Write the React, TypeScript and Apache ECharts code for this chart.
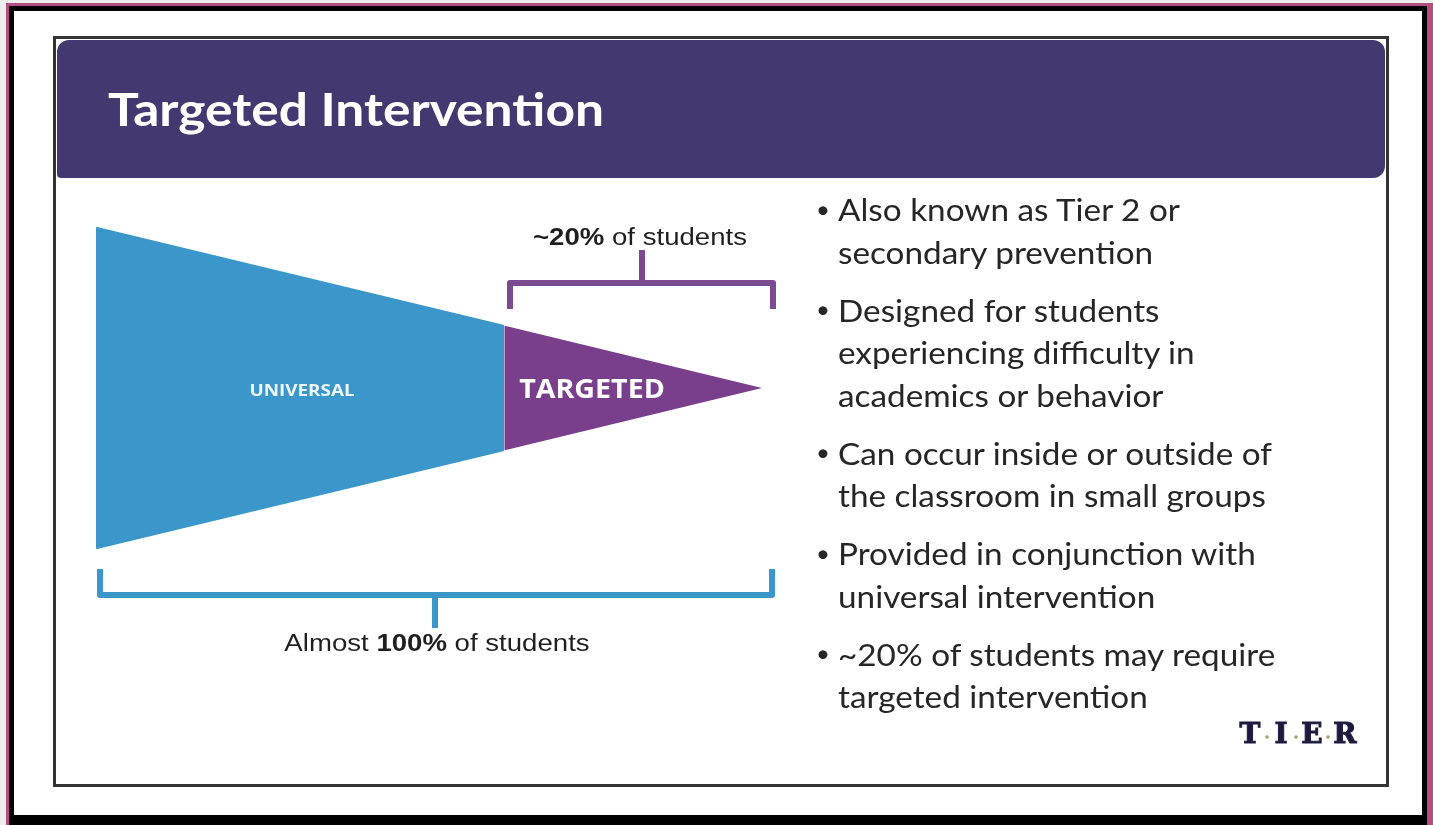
import React, { useEffect, useRef } from "react";
import * as echarts from "echarts";

const title = "Targeted Intervention";
const tierLabels = ["UNIVERSAL", "TARGETED"];
const topBracketLabel = ["~20%", " of students"];
const bottomBracketLabel = ["Almost ", "100%", " of students"];
const bullets: string[][] = [
  ["Also known as Tier 2 or", "secondary prevention"],
  ["Designed for students", "experiencing difficulty in", "academics or behavior"],
  ["Can occur inside or outside of", "the classroom in small groups"],
  ["Provided in conjunction with", "universal intervention"],
  ["~20% of students may require", "targeted intervention"],
];
const logoLetters = ["T", "I", "E", "R"];

const BLUE = "#3b97c9";
const PURPLE = "#7a3f8c";
const HEADER = "#433870";
const TEXT = "#262626";

export default function App() {
  const ref = useRef<HTMLDivElement>(null);
  useEffect(() => {
    if (!ref.current) return;
    const chart = echarts.init(ref.current, undefined, { renderer: "svg" });

    // triangle geometry
    const leftX = 97, topY = 228, botY = 548, tipX = 762, tipY = 388, splitX = 503;
    const f = (splitX - leftX) / (tipX - leftX);
    const sTop = topY + (tipY - topY) * f;
    const sBot = botY + (tipY - botY) * f;

    const bulletEls: any[] = [];
    let y = 210;
    bullets.forEach((para) => {
      para.forEach((line, li) => {
        if (li === 0) {
          bulletEls.push({
            type: "text", x: 816, y: y - 2,
            style: { text: "•", font: "24px Lato", fill: TEXT, verticalAlign: "middle" },
          });
        }
        bulletEls.push({
          type: "text", x: 838, y, scaleX: 1.11,
          style: { text: line, font: "30px Lato", fill: TEXT, verticalAlign: "middle" },
        });
        y += 42.3;
      });
      y += 16;
    });

    const letterX = [1250, 1281, 1312, 1345];
    const dotX = [1267, 1296, 1328];
    const logoEls: any[] = [];
    logoLetters.forEach((c, i) => {
      logoEls.push({
        type: "text", x: letterX[i], y: 733,
        style: {
          text: c, font: "bold 28px 'DejaVu Serif'", fill: "#1c1a3f",
          stroke: "#1c1a3f", lineWidth: 1, align: "center", verticalAlign: "middle",
        },
      });
    });
    dotX.forEach((x) => {
      logoEls.push({ type: "circle", shape: { cx: x, cy: 737, r: 1.8 }, style: { fill: "#a9a268" } });
    });

    chart.setOption({
      animation: false,
      graphic: [
        { type: "rect", shape: { x: 0, y: 0, width: 1433, height: 825 }, style: { fill: "#ededed" } },
        { type: "rect", shape: { x: 6, y: 3, width: 1427, height: 830 }, style: { fill: "#b24f80" } },
        { type: "rect", shape: { x: 9, y: 6, width: 1418, height: 830 }, style: { fill: "#000" } },
        { type: "rect", shape: { x: 14, y: 11, width: 1408, height: 804 }, style: { fill: "#fff" } },
        {
          type: "rect", shape: { x: 54.5, y: 37.5, width: 1333, height: 748 },
          style: { fill: "#fff", stroke: "#333", lineWidth: 3 },
        },
        {
          type: "rect", shape: { x: 57, y: 40, width: 1328, height: 138, r: [12, 12, 12, 4] },
          style: { fill: HEADER },
        },
        {
          type: "text", x: 108, y: 108, scaleX: 1.12,
          style: { text: title, font: "bold 46px Lato", fill: "#fff", verticalAlign: "middle" },
        },
        // triangle
        {
          type: "polygon",
          shape: { points: [[leftX, topY], [splitX, sTop], [splitX, sBot], [leftX, botY]] },
          style: { fill: BLUE, stroke: BLUE, lineWidth: 2, lineJoin: "round" },
        },
        {
          type: "polygon",
          shape: { points: [[splitX + 1.5, sTop], [tipX, tipY], [splitX + 1.5, sBot]] },
          style: { fill: PURPLE },
        },
        {
          type: "text", x: 302, y: 390, scaleX: 1.18,
          style: { text: tierLabels[0], font: "bold 16px 'Open Sans'", fill: "#eef6fb", align: "center", verticalAlign: "middle" },
        },
        {
          type: "text", x: 592, y: 388, scaleX: 1.1,
          style: { text: tierLabels[1], font: "bold 26px 'Open Sans'", fill: "#fff", align: "center", verticalAlign: "middle" },
        },
        // top bracket
        {
          type: "polyline",
          shape: { points: [[510, 309], [510, 283], [773, 283], [773, 309]] },
          style: { stroke: "#7b4a91", lineWidth: 6, fill: null, lineJoin: "round" },
        },
        {
          type: "line", shape: { x1: 642, y1: 283, x2: 642, y2: 250 },
          style: { stroke: "#7b4a91", lineWidth: 6 },
        },
        {
          type: "text", x: 640, y: 237, scaleX: 1.15,
          style: {
            text: `{b|${topBracketLabel[0]}}{n|${topBracketLabel[1]}}`,
            align: "center", verticalAlign: "middle",
            rich: {
              b: { font: "bold 24px 'Liberation Sans'", fill: "#1f1f1f" },
              n: { font: "24px 'Liberation Sans'", fill: "#1f1f1f" },
            },
          },
        },
        // bottom bracket
        {
          type: "polyline",
          shape: { points: [[100, 569], [100, 595], [772, 595], [772, 569]] },
          style: { stroke: BLUE, lineWidth: 6, fill: null, lineJoin: "round" },
        },
        {
          type: "line", shape: { x1: 435, y1: 595, x2: 435, y2: 628 },
          style: { stroke: BLUE, lineWidth: 6 },
        },
        {
          type: "text", x: 437, y: 643, scaleX: 1.15,
          style: {
            text: `{n|${bottomBracketLabel[0]}}{b|${bottomBracketLabel[1]}}{n|${bottomBracketLabel[2]}}`,
            align: "center", verticalAlign: "middle",
            rich: {
              b: { font: "bold 24px 'Liberation Sans'", fill: "#1f1f1f" },
              n: { font: "24px 'Liberation Sans'", fill: "#1f1f1f" },
            },
          },
        },
        ...bulletEls,
        ...logoEls,
      ],
    });
    return () => chart.dispose();
  }, []);
  return (
    <div
      ref={ref}
      style={{ position: "fixed", left: 0, top: 0, width: 1433, height: 825 }}
    />
  );
}
